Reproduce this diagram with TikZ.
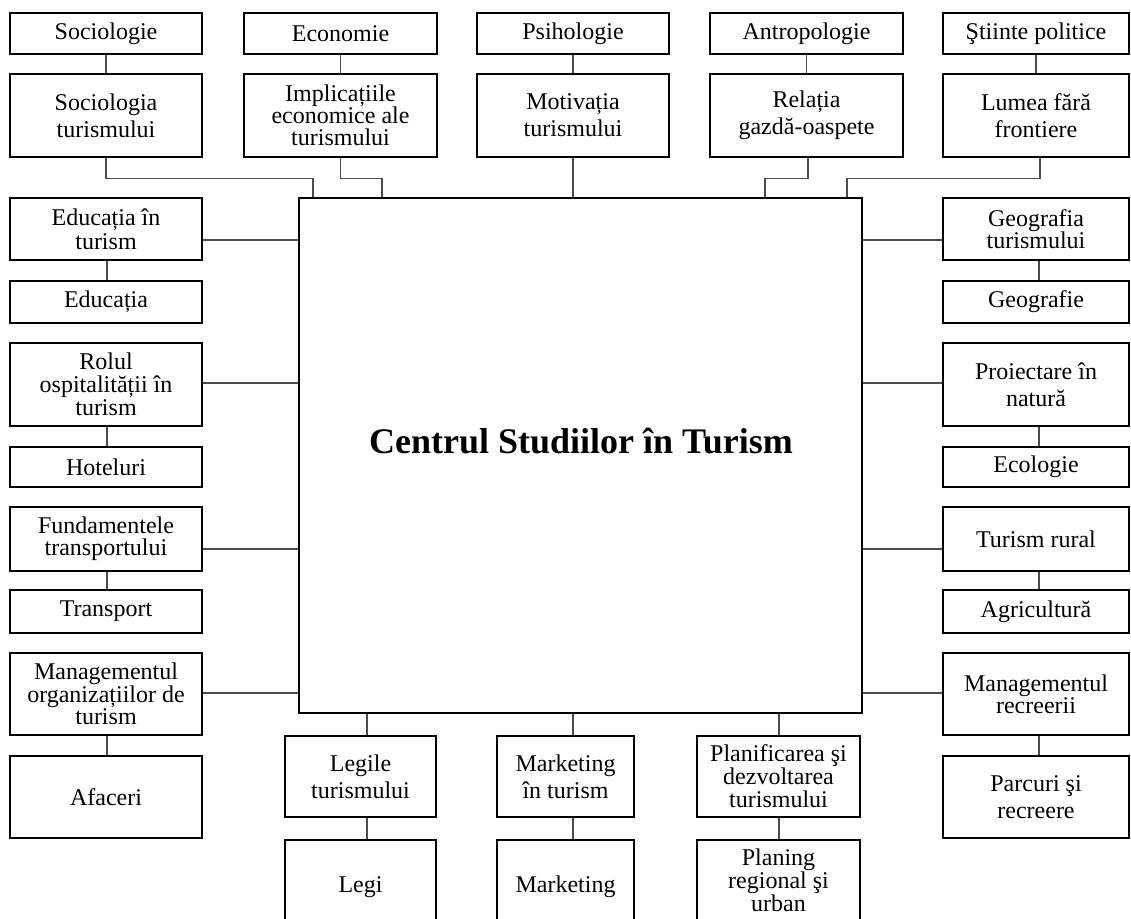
\documentclass[tikz,border=0pt]{standalone}
\usepackage{fontspec}
\setmainfont{Liberation Serif}
\begin{document}
\begin{tikzpicture}[x=1pt,y=-1pt,
  box/.style={draw=black, line width=1.2pt, align=center, inner sep=0pt},
  conn/.style={line width=1.1pt, draw=black!70},
  title/.style={font=\fontsize{36}{40}\selectfont\bfseries}]
\fill[white] (0,0) rectangle (1131,918);
\useasboundingbox (0,0) rectangle (1131,918);
\newcommand\bx[7][27]{\node[box, font=\fontsize{24}{#1}\selectfont, minimum width=#5, minimum height=#6] (#2) at (#3,#4) {#7};}
% top row: name, cx, cy, w, h, text
\bx{soca}{106}{33.5}{192}{41}{Sociologie}
\bx{ecoa}{340.5}{33.5}{193}{41}{Economie}
\bx{psia}{573}{33.5}{192}{41}{Psihologie}
\bx{anta}{806.5}{33.5}{193}{41}{Antropologie}
\bx{stia}{1036}{33.5}{186}{41}{Ştiinte politice}
\bx{socb}{106}{115.5}{192}{83}{Sociologia\\turismului}
\bx[22]{ecob}{340.5}{115.5}{193}{83}{Implicațiile\\economice ale\\turismului}
\bx{psib}{573}{115.5}{192}{83}{Motivația\\turismului}
\bx{antb}{806.5}{115.5}{193}{83}{Relația\\gazdă-oaspete}
\bx{stib}{1036}{115.5}{186}{83}{Lumea fără\\frontiere}
% centre
\node[draw=black, line width=1.2pt, minimum width=563, minimum height=515, inner sep=0pt] (cen) at (580.5,455.5) {};
\node[title] (ttl) at (581,441) {Centrul Studiilor în Turism};
% left column
\bx[24]{la}{106}{229}{192}{62}{Educația în\\turism}
\bx{lab}{106}{302}{192}{42}{Educația}
\bx[23]{lb}{106}{384.5}{192}{83}{Rolul\\ospitalității în\\turism}
\bx{lbb}{106}{467}{192}{40}{Hoteluri}
\bx[22]{lc}{106}{539}{192}{64}{Fundamentele\\transportului}
\bx{lcb}{106}{611.5}{192}{43}{Transport}
\bx[21]{ld}{106}{694}{192}{82}{Managementul\\organizațiilor de\\turism}
\bx{ldb}{106}{797}{192}{82}{Afaceri}
% right column
\bx[22]{ra}{1036}{229}{186}{62}{Geografia\\turismului}
\bx{rab}{1036}{302}{186}{42}{Geografie}
\bx{rb}{1036}{384.5}{186}{83}{Proiectare în\\natură}
\bx{rbb}{1036}{467}{186}{40}{Ecologie}
\bx{rc}{1036}{539}{186}{64}{Turism rural}
\bx{rcb}{1036}{611.5}{186}{43}{Agricultură}
\bx[21]{rd}{1036}{694}{186}{82}{Managementul\\recreerii}
\bx{rdb}{1036}{797}{186}{82}{Parcuri şi\\recreere}
% bottom row
\bx{ba}{360.5}{776.5}{151}{81}{Legile\\turismului}
\bx{bab}{360.5}{887}{151}{94}{Legi}
\bx{bb}{565.5}{776.5}{137}{81}{Marketing\\în turism}
\bx{bbb}{565.5}{887}{137}{94}{Marketing}
\bx[23]{bc}{778.5}{776.5}{163}{81}{Planificarea şi\\dezvoltarea\\turismului}
\bx[20]{bcb}{778.5}{880}{163}{80}{Planing\\regional şi\\urban}
% connectors top
\foreach \a/\b in {soca/socb,ecoa/ecob,psia/psib,anta/antb,stia/stib}
  \draw[conn] (\a.south) -- (\b.north);
\draw[conn] (socb.south) -- ++(0,21) -| (cen.north -| 313,0);
\draw[conn] (ecob.south) -- ++(0,21) -| (cen.north -| 382,0);
\draw[conn] (psib.south) -- (cen.north -| psib.south);
\draw[conn] (antb.south -| 808,0) -- ++(0,21) -| (cen.north -| 765,0);
\draw[conn] (stib.south -| 1040,0) -- ++(0,21) -| (cen.north -| 847,0);
% connectors sides
\foreach \n/\y in {la/240,lb/383,lc/549,ld/693}
  \draw[conn] (\n.east |- 0,\y) -- (cen.west |- 0,\y);
\foreach \n/\y in {ra/240,rb/383,rc/549,rd/693}
  \draw[conn] (\n.west |- 0,\y) -- (cen.east |- 0,\y);
\foreach \a/\b in {la/lab,lb/lbb,lc/lcb,ld/ldb}
  \draw[conn] (\a.south -| 107,0) -- (\b.north -| 107,0);
\foreach \a/\b in {ra/rab,rb/rbb,rc/rcb,rd/rdb}
  \draw[conn] (\a.south -| 1039,0) -- (\b.north -| 1039,0);
% connectors bottom
\draw[conn] (cen.south -| 367,0) -- (ba.north -| 367,0);
\draw[conn] (ba.south -| 367,0) -- (bab.north -| 367,0);
\draw[conn] (cen.south -| 573,0) -- (bb.north -| 573,0);
\draw[conn] (bb.south -| 573,0) -- (bbb.north -| 573,0);
\draw[conn] (cen.south -| 779,0) -- (bc.north -| 779,0);
\draw[conn] (bc.south -| 779,0) -- (bcb.north -| 779,0);
\end{tikzpicture}
\end{document}
